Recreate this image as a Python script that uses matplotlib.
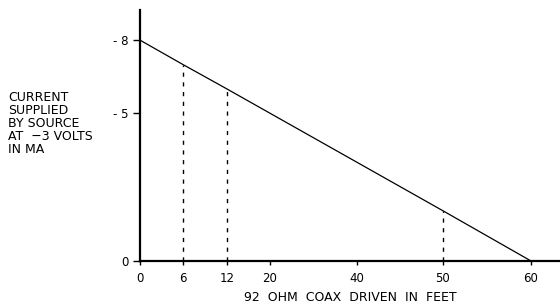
import matplotlib
matplotlib.use('Agg')
import matplotlib.pyplot as plt
import numpy as np

# data
feet = [0, 6, 12, 50, 60]
current_ma = [-8, -7.0, -6.0, -1.7, 0]
marked_feet = [6, 12, 50]
marked_current = [-7.0, -6.0, -1.7]
xticks = [0, 6, 12, 20, 40, 50, 60]
yticks = [0, -5, -8]
ytick_labels = ['0', '- 5', '- 8']

# the original axes are hand drawn and not evenly spaced
x_pts = [-10, 0, 6, 12, 20, 40, 50, 60, 80]
x_pos = [-72, 0, 43, 87, 130, 217, 303, 391, 567]
y_pts = [-12, -8, -5, 0, 3]
y_pos = [-318, -220, -147, 0, 88]

def xf(v):
    return np.interp(v, x_pts, x_pos)

def xi(v):
    return np.interp(v, x_pos, x_pts)

def yf(v):
    return np.interp(v, y_pts, y_pos)

def yi(v):
    return np.interp(v, y_pos, y_pts)

fig = plt.figure(figsize=(5.6, 3.07), dpi=100)
ax = fig.add_axes([0.25, 0.15, 0.75, 0.817])
ax.set_xscale('function', functions=(xf, xi))
ax.set_yscale('function', functions=(yf, yi))

ax.plot(feet, current_ma, color='black', lw=0.9)
ax.vlines(marked_feet, 0, marked_current, colors='black', lw=1,
          linestyles=(0, (3, 4)))

ax.set_xlim(0, 63.3)
ax.set_ylim(0, -9.22)
ax.set_xticks(xticks)
ax.set_xticklabels([str(t) for t in xticks])
ax.set_yticks(yticks)
ax.set_yticklabels(ytick_labels)
ax.minorticks_off()

for s in ['top', 'right']:
    ax.spines[s].set_visible(False)
ax.spines['left'].set_linewidth(1.6)
ax.spines['bottom'].set_linewidth(1.6)
ax.tick_params(axis='x', direction='out', length=3, width=1, labelsize=8.5, pad=5)
ax.tick_params(axis='y', direction='out', length=5, width=1, labelsize=8.5, pad=3)

ax.set_xlabel('92  OHM  COAX  DRIVEN  IN  FEET', fontsize=9, labelpad=4)
fig.text(0.015, 0.705, 'CURRENT\nSUPPLIED\nBY SOURCE\nAT  \u22123 VOLTS\nIN MA',
         fontsize=9, ha='left', va='top', linespacing=1.0)

fig.savefig('out.png', dpi=100)
